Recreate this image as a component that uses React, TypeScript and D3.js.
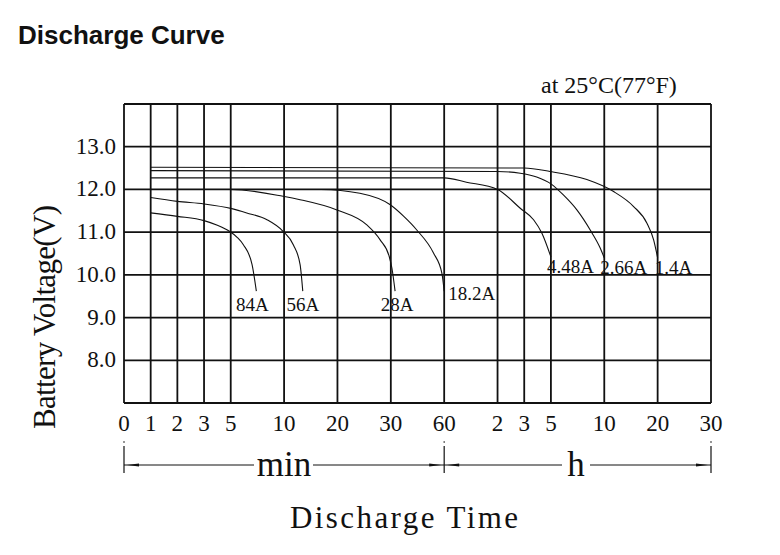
import { useMemo } from 'react';
import { curveMonotoneX, line, scaleLinear } from 'd3';

// time axis (minutes), with the printed labels
const timeTicks = [0, 1, 2, 3, 5, 10, 20, 30, 60, 120, 180, 300, 600, 1200, 1800];
const timeLabels = ['0', '1', '2', '3', '5', '10', '20', '30', '60', '2', '3', '5', '10', '20', '30'];
// relative spacing of the time grid (unit steps as printed on the sheet)
const timeSteps = [0, 1, 2, 3, 4, 6, 8, 10, 12, 14, 15, 16, 18, 20, 22];

const voltGrid = [7, 8, 9, 10, 11, 12, 13, 14];
const voltLabels = [8, 9, 10, 11, 12, 13];

// [minutes, volts]
const c84A = [[1, 11.45], [2, 11.37], [3, 11.27], [4, 11.16], [4.9, 11.02], [5.6, 10.88], [6.2, 10.7], [7, 10.24], [7.4, 9.62]];
const c56A = [[1, 11.81], [2, 11.72], [3, 11.66], [5.1, 11.55], [6.5, 11.45], [8.4, 11.29], [9.9, 11.02], [11.75, 10.7], [13, 10.24], [13.5, 9.62]];
const c28A = [[1, 12.0], [5, 12.0], [9.9, 11.84], [13, 11.76], [19.9, 11.52], [25.5, 11.17], [28, 10.82], [29.7, 10.43], [30.6, 10.16], [32.4, 9.62]];
const c18A = [[1, 12.0], [17, 12.0], [24.2, 11.91], [29.9, 11.64], [37, 11.38], [44.6, 11.05], [54, 10.51], [58.7, 10.04], [60, 9.62]];
const c448A = [[1, 12.27], [60, 12.27], [85, 12.17], [120, 12.0], [171, 11.56], [222, 11.29], [259, 10.98], [300, 10.42]];
const c266A = [[1, 12.44], [120, 12.42], [171, 12.38], [236, 12.29], [300, 12.13], [370, 11.87], [446, 11.52], [521, 11.05], [577, 10.63], [600, 10.4]];
const c14A = [[1, 12.52], [180, 12.5], [296, 12.42], [502, 12.23], [705, 11.95], [930, 11.6], [1080, 11.21], [1155, 10.82], [1200, 10.4]];

const seriesNames = ['84A', '56A', '28A', '18.2A', '4.48A', '2.66A', '1.4A'];
const seriesValues = [c84A, c56A, c28A, c18A, c448A, c266A, c14A];

// label placement per series: anchor, dx, dy from the curve end
const labelPlace: [string, number, number][] = [
  ['middle', -4, 20],
  ['middle', 0, 20],
  ['middle', 2, 20],
  ['start', 4, 9],
  ['start', -4, 16],
  ['start', -4, 16],
  ['start', -3, 16],
];

const W = 780;
const H = 555;
const left = 124;
const right = 711;
const top = 104;
const bottom = 403;

const serif = '"Liberation Serif", "Times New Roman", serif';

export default function App() {
  const x = useMemo(() => {
    const n = timeSteps[timeSteps.length - 1];
    return scaleLinear()
      .domain(timeTicks)
      .range(timeSteps.map((s) => left + ((right - left) * s) / n));
  }, []);
  const y = useMemo(() => scaleLinear().domain([7, 14]).range([bottom, top]), []);

  const path = useMemo(
    () =>
      line<number[]>()
        .x((d) => x(d[0]))
        .y((d) => y(d[1]))
        .curve(curveMonotoneX),
    [x, y],
  );

  const arrowY = 465;
  const xMid = x(60);

  const arrowHead = (px: number, dir: number) =>
    `M${px + dir * 3},${arrowY} L${px + dir * 15},${arrowY - 1.6} L${px + dir * 15},${arrowY + 1.6} Z`;

  return (
    <svg
      width={W}
      height={H}
      style={{ position: 'absolute', left: 0, top: 0, background: '#fff' }}
    >
      <rect width={W} height={H} fill="#fff" />
      <text x={18} y={44} fontFamily='"Liberation Sans", Arial, sans-serif' fontWeight="bold" fontSize={26} fill="#111">
        Discharge Curve
      </text>
      <text x={541} y={93} fontFamily={serif} fontSize={24} fill="#111">
        at 25°C(77°F)
      </text>

      {/* grid */}
      <g stroke="#111" strokeWidth={1.8}>
        {voltGrid.map((v) => (
          <line key={'h' + v} x1={left} x2={right} y1={y(v)} y2={y(v)} />
        ))}
        {timeTicks.map((t) => (
          <line key={'v' + t} x1={x(t)} x2={x(t)} y1={top} y2={bottom} />
        ))}
      </g>

      {/* y tick labels */}
      <g fontFamily={serif} fontSize={23} fill="#111" textAnchor="end">
        {voltLabels.map((v) => (
          <text key={v} x={116} y={y(v) + 7}>
            {v.toFixed(1)}
          </text>
        ))}
      </g>

      {/* x tick labels */}
      <g fontFamily={serif} fontSize={23} fill="#111" textAnchor="middle">
        {timeTicks.map((t, i) => (
          <text key={t} x={x(t)} y={431}>
            {timeLabels[i]}
          </text>
        ))}
      </g>

      {/* curves */}
      <g fill="none" stroke="#111" strokeWidth={1.1}>
        {seriesValues.map((s, i) => (
          <path key={seriesNames[i]} d={path(s) ?? ''} />
        ))}
      </g>
      <g fontFamily={serif} fontSize={19} fill="#111">
        {seriesValues.map((s, i) => {
          const end = s[s.length - 1];
          const [anchor, dx, dy] = labelPlace[i];
          return (
            <text key={seriesNames[i]} x={x(end[0]) + dx} y={y(end[1]) + dy} textAnchor={anchor}>
              {seriesNames[i]}
            </text>
          );
        })}
      </g>

      {/* min / h span markers */}
      <g stroke="#111">
        {[left, xMid, right].map((px) => (
          <line key={px} x1={px} x2={px} y1={446} y2={473} strokeWidth={1.2} />
        ))}
        <line x1={left} x2={254} y1={arrowY} y2={arrowY} strokeWidth={1} />
        <line x1={313} x2={xMid} y1={arrowY} y2={arrowY} strokeWidth={1} />
        <line x1={xMid} x2={562} y1={arrowY} y2={arrowY} strokeWidth={1} />
        <line x1={590} x2={right} y1={arrowY} y2={arrowY} strokeWidth={1} />
      </g>
      <g fill="#111">
        {[left, xMid, right].map((px) => (
          <circle key={px} cx={px} cy={442} r={0.8} />
        ))}
        <path d={arrowHead(left, 1)} />
        <path d={arrowHead(xMid, -1)} />
        <path d={arrowHead(xMid, 1)} />
        <path d={arrowHead(right, -1)} />
      </g>
      <text x={284} y={476} textAnchor="middle" fontFamily={serif} fontSize={35} fill="#111">
        min
      </text>
      <text x={576} y={476} textAnchor="middle" fontFamily={serif} fontSize={35} fill="#111">
        h
      </text>

      <text
        x={404}
        y={528}
        textAnchor="middle"
        fontFamily={serif}
        fontSize={31}
        fill="#111"
        textLength={228}
        lengthAdjust="spacing"
      >
        Discharge Time
      </text>
      <text
        transform="translate(55,317) rotate(-90)"
        textAnchor="middle"
        fontFamily={serif}
        fontSize={31}
        fill="#111"
        textLength={224}
        lengthAdjust="spacing"
      >
        Battery Voltage(V)
      </text>
    </svg>
  );
}
